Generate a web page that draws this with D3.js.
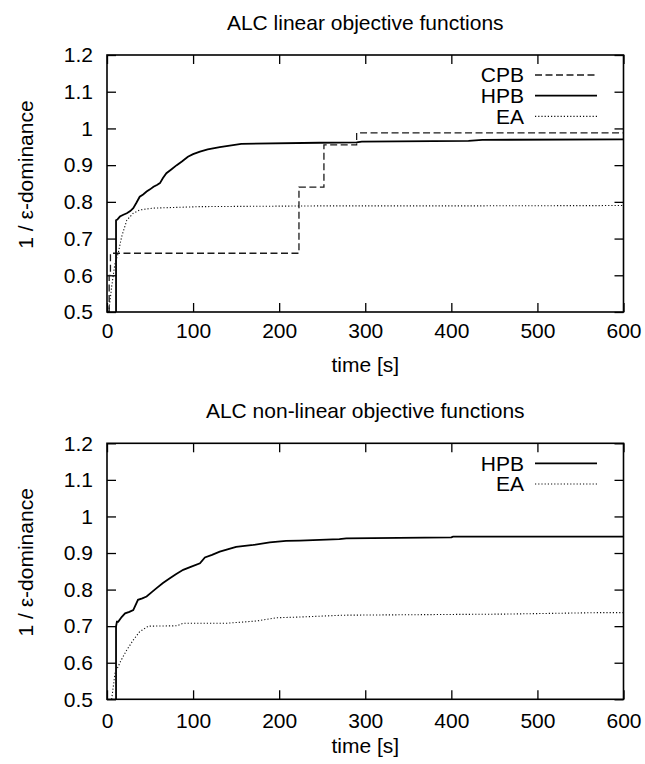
<!DOCTYPE html>
<html>
<head>
<meta charset="utf-8">
<script src="https://cdn.jsdelivr.net/npm/d3@7"></script>
<style>
  body { margin: 0; background: #fff; }
  text { font-family: "Liberation Sans", Arial, Helvetica, sans-serif; fill: #000; }
</style>
</head>
<body>
<div id="chart"></div>
<script>
// data, [time s, 1/eps-dominance]
const xTicks = [0, 100, 200, 300, 400, 500, 600];
const yTicks = [0.5, 0.6, 0.7, 0.8, 0.9, 1.0, 1.1, 1.2];

const cpbLinear = [[2, 0.5], [2.5, 0.6], [4, 0.66], [223, 0.84], [252, 0.955], [290, 0.988], [600, 0.988]];
const hpbLinear = [[10.5, 0.5], [10.5, 0.75], [12, 0.752], [15, 0.76], [19, 0.765], [23, 0.769], [27, 0.775],
  [30.5, 0.783], [34, 0.797], [38, 0.814], [42, 0.82], [46, 0.828], [50, 0.834], [54, 0.841], [58, 0.846],
  [61.5, 0.851], [65, 0.865], [69, 0.878], [75, 0.889], [81, 0.9], [87, 0.91], [94, 0.923], [100, 0.93],
  [108, 0.937], [117, 0.943], [131, 0.949], [156, 0.958], [247, 0.961], [290, 0.962], [296, 0.964],
  [420, 0.966], [436, 0.969], [600, 0.970]];
const eaLinear = [[2, 0.5], [5.4, 0.569], [9.3, 0.633], [13, 0.66], [17, 0.705], [23, 0.75], [30.5, 0.769],
  [38, 0.778], [54, 0.783], [108, 0.787], [247, 0.789], [400, 0.789], [600, 0.790]];

const hpbNonlinear = [[10.5, 0.5], [10.5, 0.699], [11.5, 0.712], [13, 0.712], [17, 0.725], [21, 0.735],
  [26, 0.739], [30.5, 0.744], [36, 0.772], [41, 0.776], [46, 0.781], [52, 0.793], [57.6, 0.804], [65, 0.818],
  [73, 0.831], [80, 0.842], [88.5, 0.854], [98, 0.863], [108, 0.872], [113.7, 0.888], [122, 0.895],
  [131, 0.904], [140, 0.91], [150, 0.917], [170, 0.922], [189, 0.929], [208, 0.933], [224, 0.934],
  [270, 0.938], [278, 0.94], [400, 0.943], [402, 0.945], [600, 0.945]];
const eaNonlinear = [[5.4, 0.5], [9.3, 0.571], [16, 0.605], [23, 0.635], [30.5, 0.662], [38, 0.685],
  [48, 0.7], [81, 0.701], [88.5, 0.708], [139, 0.708], [173.5, 0.714], [197, 0.723], [224, 0.725],
  [275, 0.73], [463, 0.733], [572, 0.737], [600, 0.737]];

const styles = {
  CPB: {dash: "7,3.5", width: 1.3, color: "#1a1a1a", curve: d3.curveStepAfter},
  HPB: {dash: null, width: 1.8, color: "#000", curve: d3.curveLinear},
  EA: {dash: "1.2,2", width: 1.1, color: "#111", curve: d3.curveLinear}
};

const fontSize = 21;

const panels = [
  {title: "ALC linear objective functions", top: 55, bottom: 312, labelPad: 11.4, xLabelY: 372,
   series: [["CPB", cpbLinear], ["HPB", hpbLinear], ["EA", eaLinear]]},
  {title: "ALC non-linear objective functions", top: 443.3, bottom: 699.3, labelPad: 14, xLabelY: 753,
   series: [["HPB", hpbNonlinear], ["EA", eaNonlinear]]}
];

const width = 645, height = 764;
const left = 107, right = 623.5;

const svg = d3.select("#chart").append("svg")
  .attr("width", width)
  .attr("height", height);

const x = d3.scaleLinear().domain([0, 600]).range([left, right]);

panels.forEach((p, pi) => {
  const y = d3.scaleLinear().domain([0.5, 1.2]).range([p.bottom, p.top]);
  const g = svg.append("g").attr("class", "panel" + pi);

  // ticks pointing inward on all four sides
  const xb = g.append("g").attr("transform", "translate(0," + p.bottom + ")")
    .call(d3.axisBottom(x).tickValues(xTicks).tickSizeInner(-9).tickSizeOuter(0).tickPadding(p.labelPad));
  const xt = g.append("g").attr("transform", "translate(0," + p.top + ")")
    .call(d3.axisTop(x).tickValues(xTicks).tickSizeInner(-9).tickSizeOuter(0).tickFormat(""));
  const yl = g.append("g").attr("transform", "translate(" + left + ",0)")
    .call(d3.axisLeft(y).tickValues(yTicks).tickSizeInner(-9).tickSizeOuter(0).tickPadding(14)
      .tickFormat(d => String(+d.toFixed(1))));
  const yr = g.append("g").attr("transform", "translate(" + right + ",0)")
    .call(d3.axisRight(y).tickValues(yTicks).tickSizeInner(-9).tickSizeOuter(0).tickFormat(""));

  [xb, xt, yl, yr].forEach(a => {
    a.select(".domain").remove();
    a.selectAll(".tick line").attr("stroke", "#000").attr("stroke-width", 1.3);
    a.selectAll("text").attr("font-size", fontSize).attr("font-family", null).attr("fill", "#000");
  });

  // lines
  const clipId = "clip" + pi;
  g.append("clipPath").attr("id", clipId).append("rect")
    .attr("x", left).attr("y", p.top).attr("width", right - left).attr("height", p.bottom - p.top);

  const plot = g.append("g").attr("clip-path", "url(#" + clipId + ")");
  p.series.forEach(([name, data]) => {
    const s = styles[name];
    plot.append("path")
      .datum(data)
      .attr("fill", "none")
      .attr("stroke", s.color)
      .attr("stroke-width", s.width)
      .attr("stroke-dasharray", s.dash)
      .attr("d", d3.line().x(d => x(d[0])).y(d => y(d[1])).curve(s.curve));
  });

  // frame
  g.append("rect")
    .attr("x", left).attr("y", p.top)
    .attr("width", right - left).attr("height", p.bottom - p.top)
    .attr("fill", "none").attr("stroke", "#000").attr("stroke-width", 1.6);

  // legend
  const leg = g.append("g").attr("class", "legend");
  p.series.forEach(([name], i) => {
    const s = styles[name];
    const ly = p.top + 20 + i * 20.7;
    leg.append("text")
      .attr("x", 524).attr("y", ly).attr("dy", "0.35em")
      .attr("text-anchor", "end").attr("font-size", fontSize)
      .text(name);
    leg.append("line")
      .attr("x1", 535).attr("x2", 597).attr("y1", ly).attr("y2", ly)
      .attr("stroke", s.color).attr("stroke-width", s.width)
      .attr("stroke-dasharray", s.dash);
  });

  // titles and axis labels
  g.append("text")
    .attr("x", (left + right) / 2).attr("y", p.top - 25)
    .attr("text-anchor", "middle").attr("font-size", fontSize)
    .text(p.title);

  g.append("text")
    .attr("x", (left + right) / 2).attr("y", p.xLabelY)
    .attr("text-anchor", "middle").attr("font-size", fontSize)
    .text("time [s]");

  g.append("text")
    .attr("transform", "translate(33," + ((p.top + p.bottom) / 2 - 9) + ") rotate(-90)")
    .attr("text-anchor", "middle").attr("font-size", fontSize)
    .text("1 / ε-dominance");
});
</script>
</body>
</html>
